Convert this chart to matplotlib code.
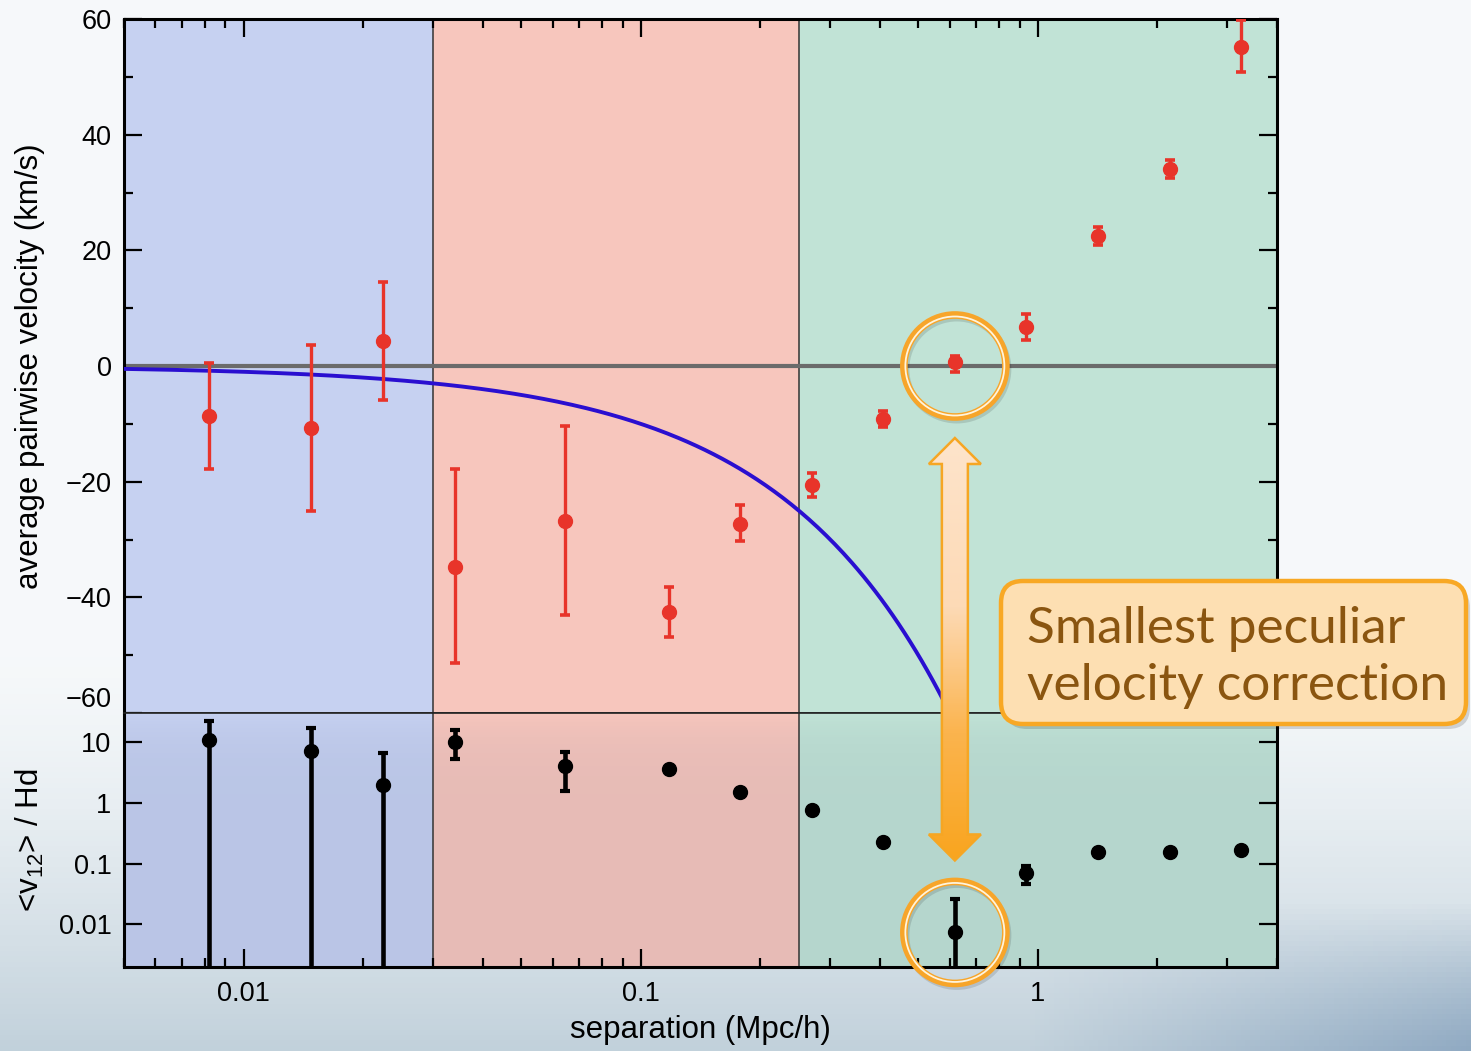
import numpy as np
import matplotlib
matplotlib.use("Agg")
import matplotlib.pyplot as plt
from matplotlib.patches import Circle, FancyBboxPatch, Polygon
from matplotlib.ticker import MultipleLocator, LogLocator, NullFormatter, NullLocator
from matplotlib.colors import LinearSegmentedColormap
import matplotlib.transforms as mtransforms

plt.rcParams['font.family'] = ['Liberation Sans', 'DejaVu Sans']
plt.rcParams['mathtext.fontset'] = 'custom'
plt.rcParams['mathtext.rm'] = 'Liberation Sans'
plt.rcParams['mathtext.it'] = 'Liberation Sans:italic'

# separation bins (Mpc/h)
sep = [0.0082, 0.0148, 0.0225, 0.034, 0.0646, 0.118, 0.178, 0.270,
       0.407, 0.618, 0.933, 1.416, 2.15, 3.24]

# average pairwise velocity (km/s), with error bar ends
v12 = [-8.6, -10.7, 4.3, -34.7, -26.8, -42.5, -27.3, -20.6, -9.2, 0.7,
       6.7, 22.5, 34.1, 55.1]
v12_hi = [0.5, 3.6, 14.5, -17.8, -10.4, -38.2, -24.0, -18.5, -7.8, 1.7,
          9.0, 24.0, 35.6, 59.8]
v12_lo = [-17.8, -25.0, -5.9, -51.3, -43.0, -46.8, -30.2, -22.6, -10.5, -1.0,
          4.5, 21.0, 32.5, 50.8]

# <v12> / Hd, with error bar ends (1e-4 = runs off the bottom)
ratio = [10.8, 7.1, 1.97, 10.0, 4.0, 3.6, 1.51, 0.77, 0.23, 0.0074,
         0.071, 0.157, 0.157, 0.17]
ratio_hi = [22.0, 17.0, 6.6, 15.7, 6.9, 3.6, 1.51, 0.77, 0.23, 0.0267,
            0.093, 0.157, 0.157, 0.17]
ratio_lo = [1e-4, 1e-4, 1e-4, 5.3, 1.57, 3.6, 1.51, 0.77, 0.23, 1e-4,
            0.047, 0.157, 0.157, 0.17]

# shaded separation regimes
region_edges = [0.005, 0.03, 0.25, 4.0]
region_colors = ['#c6d1f1', '#f7c6bd', '#c1e3d6']

H0 = 100.0  # km/s per Mpc/h, Hubble flow line

W, H = 1471, 1051
fig = plt.figure(figsize=(W / 100, H / 100), dpi=100)

# slide-like background
bg = fig.add_axes([0, 0, 1, 1], zorder=-10)
yy, xx = np.mgrid[0:1:200j, 0:1:300j]
top_c = np.array([0.965, 0.976, 0.982])
bot_c = np.array([0.76, 0.82, 0.86])
t = np.clip((yy - 0.62) / 0.38, 0, 1) ** 1.4
img = top_c + (bot_c - top_c) * t[..., None]
s = (np.clip((xx - 0.7) / 0.3, 0, 1) * np.clip((yy - 0.86) / 0.14, 0, 1))[..., None]
img = img + (np.array([0.52, 0.63, 0.74]) - img) * s * 0.8
bg.imshow(img, aspect='auto')
bg.axis('off')

left, width = 124 / W, 1153 / W
ax1 = fig.add_axes([left, 1 - 713 / H, width, 694 / H])
ax2 = fig.add_axes([left, 1 - 967 / H, width, 254 / H], sharex=ax1)

for ax in (ax1, ax2):
    for i, c in enumerate(region_colors):
        ax.axvspan(region_edges[i], region_edges[i + 1], color=c, lw=0, zorder=0)
    for b in region_edges[1:-1]:
        ax.axvline(b, color='#333333', lw=1.1, zorder=1)
    for sp in ax.spines.values():
        sp.set_linewidth(2.2)

ax1.set_xscale('log')
ax1.set_xlim(region_edges[0], region_edges[-1])

# top panel
ax1.axhline(0, color='#6b6b6b', lw=3, zorder=2)
d = np.logspace(np.log10(region_edges[0]), np.log10(region_edges[-1]), 400)
ax1.plot(d, -H0 * d, color='#2a0fd0', lw=2.8, zorder=3)
v = np.array(v12)
ax1.errorbar(sep, v, yerr=[v - np.array(v12_lo), np.array(v12_hi) - v],
             fmt='o', color='#e8342a', ms=10, elinewidth=2.4, capsize=3.8,
             capthick=2.6, zorder=4)
ax1.set_ylim(-60, 60)
ax1.set_yticks(np.arange(-60, 61, 20))
ax1.set_yticklabels(['\u221260', '\u221240', '\u221220', '0', '20', '40', '60'])
ax1.yaxis.set_minor_locator(MultipleLocator(10))
ax1.tick_params(axis='x', which='both', direction='in', top=True, bottom=False,
                labelbottom=False)
ax1.tick_params(axis='y', which='both', direction='in', left=True, right=True,
                labelsize=19.5, pad=9)
ax1.tick_params(which='major', length=13, width=1.6)
ax1.tick_params(which='minor', length=6.5, width=1.6)
ax1.spines['bottom'].set_linewidth(1.2)
ax1.spines['bottom'].set_color('#222222')
lbl = ax1.get_yticklabels()[0]
lbl.set_transform(lbl.get_transform() +
                  mtransforms.ScaledTranslation(0, 0.16, fig.dpi_scale_trans))
ax1.set_ylabel('average pairwise velocity (km/s)', fontsize=22.5)
ax1.yaxis.label.set_va('center')
ax1.yaxis.set_label_coords((30 - 124) / 1153, 0.5)

# bottom panel
ax2.set_yscale('log')
r = np.array(ratio)
ax2.errorbar(sep, r, yerr=[r - np.array(ratio_lo), np.array(ratio_hi) - r],
             fmt='o', color='black', ms=10, elinewidth=3.3, capsize=3.8,
             capthick=3, zorder=4)
grad = np.zeros((100, 2, 4))
grad[..., 0], grad[..., 1], grad[..., 2] = 0.25, 0.32, 0.45
grad[..., 3] = np.linspace(0, 0.09, 100)[:, None]
ax2.imshow(grad, extent=[region_edges[0], region_edges[-1], 0.002, 30],
           origin='upper', aspect='auto', zorder=0.5, interpolation='bilinear')
ax2.set_xlim(region_edges[0], region_edges[-1])
ax2.set_ylim(0.002, 30)
ax2.set_yticks([0.01, 0.1, 1, 10])
ax2.set_yticklabels(['0.01', '0.1', '1', '10'])
ax2.yaxis.set_minor_locator(NullLocator())
ax2.set_xticks([0.01, 0.1, 1])
ax2.set_xticklabels(['0.01', '0.1', '1'])
ax2.xaxis.set_minor_locator(LogLocator(base=10, subs=np.arange(2, 10)))
ax2.xaxis.set_minor_formatter(NullFormatter())
ax2.tick_params(axis='x', which='both', direction='in', top=False, bottom=True,
                labelsize=19.5, pad=10)
ax2.tick_params(axis='y', which='both', direction='in', left=True, right=True,
                labelsize=19.5, pad=9)
ax2.tick_params(which='major', length=13, width=1.6)
ax2.tick_params(which='minor', length=6.5, width=1.6)
ax2.spines['top'].set_linewidth(1.2)
ax2.spines['top'].set_color('#222222')
ax2.set_ylabel(r'<v$_{12}$> / Hd', fontsize=22.5)
ax2.yaxis.label.set_va('center')
ax2.yaxis.set_label_coords((30 - 124) / 1153, 0.5)
ax2.set_xlabel('separation (Mpc/h)', fontsize=22.5)
ax2.xaxis.label.set_va('center')
ax2.xaxis.set_label_coords(0.5, (967 - 1030) / 254)

# annotation overlay in pixel coordinates
ov = fig.add_axes([0, 0, 1, 1], zorder=10)
ov.set_xlim(0, W)
ov.set_ylim(0, H)
ov.axis('off')

idx = 9
cx, _ = ax1.transData.transform((sep[idx], v12[idx]))
cy_top = ax1.transData.transform((sep[idx], 0))[1]
cy_bot = ax2.transData.transform((sep[idx], ratio[idx]))[1]
rad = 51
for cy in (cy_top, cy_bot):
    ov.add_patch(Circle((cx + 2, cy - 3), rad, fill=False, ec='#000000',
                        lw=5, alpha=0.12))
    ov.add_patch(Circle((cx, cy), rad, fill=False, ec='#f7a52a', lw=5.5))
    ov.add_patch(Circle((cx, cy), rad - 1.5, fill=False, ec='#fff4dc', lw=1.3))

tip_top = cy_top - rad - 21
tip_bot = cy_bot + rad + 21
sw, hw, hl = 13, 26, 26
arrow_xy = [(cx, tip_top), (cx + hw, tip_top - hl), (cx + sw, tip_top - hl),
            (cx + sw, tip_bot + hl), (cx + hw, tip_bot + hl), (cx, tip_bot),
            (cx - hw, tip_bot + hl), (cx - sw, tip_bot + hl),
            (cx - sw, tip_top - hl), (cx - hw, tip_top - hl)]
arrow = Polygon(arrow_xy, closed=True, fc='none', ec='#f6a623', lw=1.8, zorder=3)
ov.add_patch(arrow)
cmap = LinearSegmentedColormap.from_list(
    'arr', [(0, '#f9a51f'), (0.3, '#fbb44e'), (0.6, '#fddab6'), (1, '#fde4cb')])
ag = np.linspace(0, 1, 200)[:, None]
im = ov.imshow(ag, cmap=cmap, extent=[cx - hw, cx + hw, tip_bot, tip_top],
               origin='lower', aspect='auto', zorder=2)
im.set_clip_path(arrow)
ov.set_xlim(0, W)
ov.set_ylim(0, H)

bx, by, bw, bh = 1001, H - 724, 465, 143
ov.add_patch(FancyBboxPatch((bx + 4, by - 5), bw, bh,
                            boxstyle='round,pad=0,rounding_size=22',
                            fc='#000000', ec='none', alpha=0.15, zorder=4))
ov.add_patch(FancyBboxPatch((bx, by), bw, bh,
                            boxstyle='round,pad=0,rounding_size=22',
                            fc='#fddfb2', ec='#f8a824', lw=3.2, zorder=5))
ov.text(bx + 26, H - 643, 'Smallest peculiar', fontsize=37, color='#8a5510',
        family=['Lato', 'DejaVu Sans'], va='baseline', ha='left', zorder=6)
ov.text(bx + 26, H - 700, 'velocity correction', fontsize=37, color='#8a5510',
        family=['Lato', 'DejaVu Sans'], va='baseline', ha='left', zorder=6)

fig.savefig('out.png', dpi=100)
